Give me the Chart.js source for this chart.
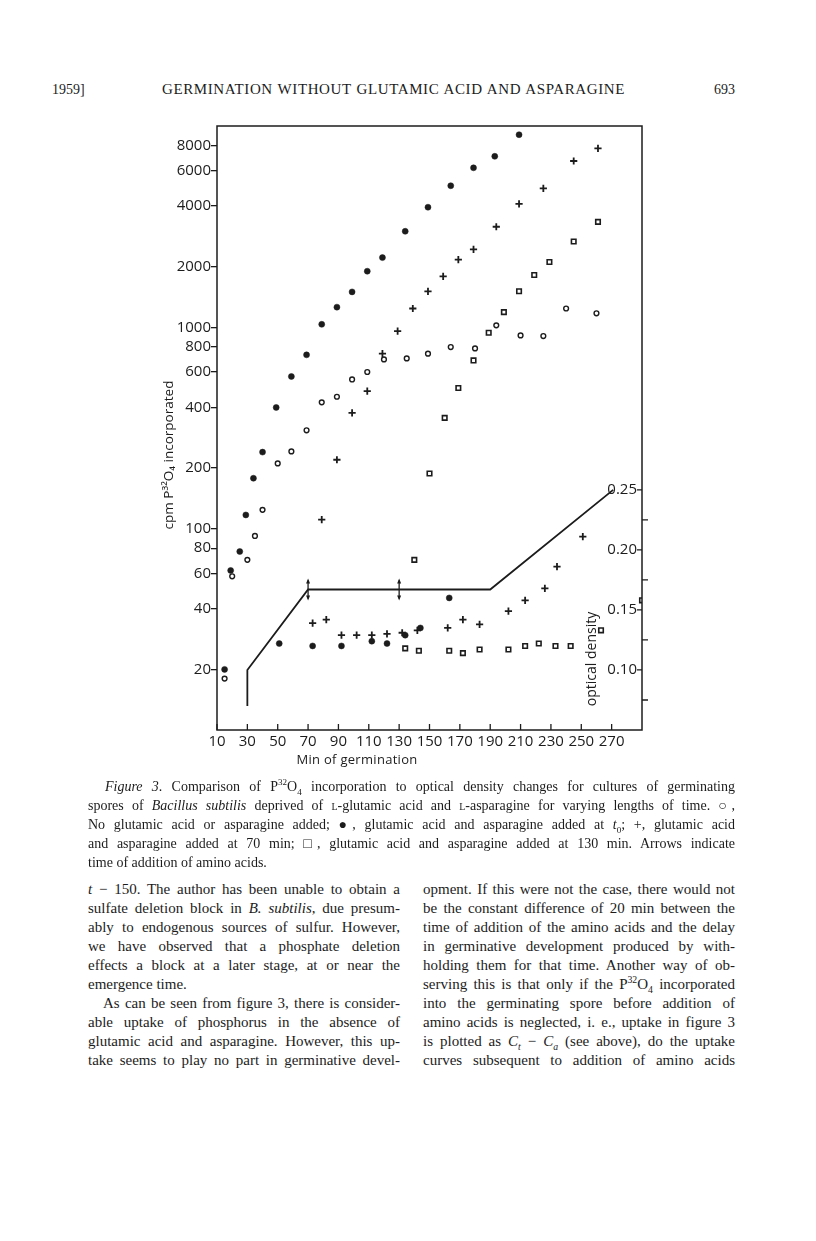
<!DOCTYPE html>
<html>
<head>
<meta charset="utf-8">
<script src="https://cdn.jsdelivr.net/npm/chart.js@4.4.0/dist/chart.umd.min.js"></script>
<style>
  html, body { margin: 0; padding: 0; background: #fff; }
  body { width: 816px; height: 1241px; position: relative; overflow: hidden; color: #1c1c1c;
         font-family: "Liberation Serif", "DejaVu Serif", serif; }
  .ln { position: absolute; white-space: nowrap; line-height: 19px; font-size: 15px; }
  .cap { font-size: 14px; }
  .j { text-align: justify; text-align-last: justify; }
  sup, sub { font-size: 65%; line-height: 0; }
  .sc { font-variant: small-caps; }
  #wrap { position: absolute; left: 140px; top: 110px; width: 520px; height: 670px; }
</style>
</head>
<body>

<div class="ln" style="left:52px; top:80px; font-size:14px;">1959]</div>
<div class="ln j" style="left:162px; top:80px; width:463px; font-size:15px; letter-spacing:0.6px;">GERMINATION WITHOUT GLUTAMIC ACID AND ASPARAGINE</div>
<div class="ln" style="left:705px; top:80px; width:30px; text-align:right; font-size:14px;">693</div>

<div id="wrap"><canvas id="fig3" width="520" height="670"></canvas></div>

<div class="ln cap j" style="left:105px; top:777px; width:630px;"><i>Figure 3</i>. Comparison of P<sup>32</sup>O<sub>4</sub> incorporation to optical density changes for cultures of germinating</div>
<div class="ln cap j" style="left:88px; top:796px; width:647px;">spores of <i>Bacillus subtilis</i> deprived of <span class="sc">l</span>-glutamic acid and <span class="sc">l</span>-asparagine for varying lengths of time. ○,</div>
<div class="ln cap j" style="left:88px; top:815px; width:647px;">No glutamic acid or asparagine added; ●, glutamic acid and asparagine added at <i>t</i><sub>0</sub>; +, glutamic acid</div>
<div class="ln cap j" style="left:88px; top:834px; width:647px;">and asparagine added at 70 min; □, glutamic acid and asparagine added at 130 min. Arrows indicate</div>
<div class="ln cap" style="left:88px; top:853px;">time of addition of amino acids.</div>

<div class="ln j" style="left:88px; top:880px; width:312px;"><i>t</i> − 150. The author has been unable to obtain a</div>
<div class="ln j" style="left:88px; top:899px; width:312px;">sulfate deletion block in <i>B. subtilis</i>, due presum-</div>
<div class="ln j" style="left:88px; top:918px; width:312px;">ably to endogenous sources of sulfur. However,</div>
<div class="ln j" style="left:88px; top:937px; width:312px;">we have observed that a phosphate deletion</div>
<div class="ln j" style="left:88px; top:956px; width:312px;">effects a block at a later stage, at or near the</div>
<div class="ln" style="left:88px; top:975px;">emergence time.</div>
<div class="ln j" style="left:103px; top:994px; width:297px;">As can be seen from figure 3, there is consider-</div>
<div class="ln j" style="left:88px; top:1013px; width:312px;">able uptake of phosphorus in the absence of</div>
<div class="ln j" style="left:88px; top:1032px; width:312px;">glutamic acid and asparagine. However, this up-</div>
<div class="ln j" style="left:88px; top:1051px; width:312px;">take seems to play no part in germinative devel-</div>

<div class="ln j" style="left:423px; top:880px; width:312px;">opment. If this were not the case, there would not</div>
<div class="ln j" style="left:423px; top:899px; width:312px;">be the constant difference of 20 min between the</div>
<div class="ln j" style="left:423px; top:918px; width:312px;">time of addition of the amino acids and the delay</div>
<div class="ln j" style="left:423px; top:937px; width:312px;">in germinative development produced by with-</div>
<div class="ln j" style="left:423px; top:956px; width:312px;">holding them for that time. Another way of ob-</div>
<div class="ln j" style="left:423px; top:975px; width:312px;">serving this is that only if the P<sup>32</sup>O<sub>4</sub> incorporated</div>
<div class="ln j" style="left:423px; top:994px; width:312px;">into the germinating spore before addition of</div>
<div class="ln j" style="left:423px; top:1013px; width:312px;">amino acids is neglected, i. e., uptake in figure 3</div>
<div class="ln j" style="left:423px; top:1032px; width:312px;">is plotted as <i>C<sub>t</sub></i> − <i>C<sub>a</sub></i> (see above), do the uptake</div>
<div class="ln j" style="left:423px; top:1051px; width:312px;">curves subsequent to addition of amino acids</div>

<script>
// axis ticks
var minTicks = [10, 30, 50, 70, 90, 110, 130, 150, 170, 190, 210, 230, 250, 270];
var cpmTicks = [20, 40, 60, 80, 100, 200, 400, 600, 800, 1000, 2000, 4000, 6000, 8000];
var odTicks = [0.10, 0.15, 0.20, 0.25];
var odMinorTicks = [0.075, 0.125, 0.175, 0.225];

// filled circles: amino acids added at t0 (cpm)
var fillMin = [15, 19, 25, 29, 34, 40, 49, 59, 69, 79, 89, 99, 109, 119, 134, 149, 164, 179, 193, 209];
var fillCpm = [20, 62, 77, 117, 178, 240, 400, 570, 730, 1035, 1260, 1500, 1900, 2220, 3000, 3950, 5050, 6200, 7070, 9050];

// open circles: nothing added (cpm)
var openMin = [15, 20, 30, 35, 40, 50, 59, 69, 79, 89, 99, 109, 120, 135, 149, 164, 180, 194, 210, 225, 240, 260];
var openCpm = [18, 58, 70, 92, 124, 211, 242, 308, 424, 452, 551, 600, 693, 701, 740, 798, 786, 1023, 912, 905, 1240, 1174];

// crosses: added at 70 min (cpm)
var plusMin = [79, 89, 99, 109, 119, 129, 139, 149, 159, 169, 179, 194, 209, 225, 245, 261];
var plusCpm = [111, 220, 376, 482, 740, 958, 1240, 1510, 1790, 2170, 2440, 3160, 4100, 4900, 6700, 7750];

// squares: added at 130 min (cpm)
var sqMin = [140, 150, 160, 169, 179, 189, 199, 209, 219, 229, 245, 261];
var sqCpm = [70, 188, 355, 500, 685, 940, 1190, 1510, 1820, 2110, 2670, 3340];

// optical density points
var fillOdMin = [51, 73, 92, 112, 122, 134, 144, 163];
var fillOd = [0.122, 0.120, 0.120, 0.124, 0.122, 0.129, 0.135, 0.160];
var plusOdMin = [73, 82, 92, 102, 112, 122, 132, 142, 162, 172, 183, 202, 213, 226, 234, 251];
var plusOd = [0.139, 0.142, 0.129, 0.129, 0.129, 0.130, 0.131, 0.133, 0.135, 0.142, 0.138, 0.149, 0.158, 0.168, 0.186, 0.211];
var sqOdMin = [134, 143, 163, 172, 183, 202, 213, 222, 233, 243, 263, 290];
var sqOd = [0.118, 0.116, 0.116, 0.114, 0.117, 0.117, 0.120, 0.122, 0.120, 0.120, 0.133, 0.158];

// optical density curve
var odLineMin = [30, 30, 70, 190, 271];
var odLine = [0.07, 0.10, 0.167, 0.167, 0.25];

// arrows: time of addition of amino acids
var arrowMin = [70, 130];
var arrowOd = 0.167;

var ink = '#1c1c1c';
var sans = '"Open Sans", "DejaVu Sans", sans-serif';

function pts(xs, ys) {
  return xs.map(function(x, i) { return { x: x, y: ys[i] }; });
}

var framePlugin = {
  id: 'frame',
  afterDraw: function(chart) {
    var ctx = chart.ctx, a = chart.chartArea, sx = chart.scales.x, sy2 = chart.scales.y2;
    ctx.save();
    ctx.strokeStyle = ink;
    ctx.fillStyle = ink;
    ctx.lineWidth = 1.5;
    ctx.strokeRect(a.left, a.top, a.right - a.left, a.bottom - a.top);

    ctx.lineWidth = 1.3;
    ctx.beginPath();
    minTicks.forEach(function(v) {
      var x = sx.getPixelForValue(v);
      ctx.moveTo(x, a.bottom); ctx.lineTo(x, a.bottom - 6);
    });
    odTicks.forEach(function(v) {
      var y = sy2.getPixelForValue(v);
      ctx.moveTo(a.right - 5, y); ctx.lineTo(a.right, y);
    });
    odMinorTicks.forEach(function(v) {
      var y = sy2.getPixelForValue(v);
      ctx.moveTo(a.right, y); ctx.lineTo(a.right + 6, y);
    });
    ctx.stroke();

    // optical density tick labels, inside the frame
    ctx.font = '15px ' + sans;
    ctx.textAlign = 'right';
    ctx.textBaseline = 'middle';
    odTicks.forEach(function(v) {
      ctx.fillText(v.toFixed(2), a.right - 5, sy2.getPixelForValue(v));
    });

    // double-headed arrows
    arrowMin.forEach(function(m) {
      var x = sx.getPixelForValue(m), y = sy2.getPixelForValue(arrowOd);
      ctx.beginPath();
      ctx.moveTo(x, y - 9); ctx.lineTo(x, y + 9);
      ctx.stroke();
      ctx.beginPath();
      ctx.moveTo(x, y - 11); ctx.lineTo(x - 2, y - 6); ctx.lineTo(x + 2, y - 6); ctx.closePath();
      ctx.moveTo(x, y + 11); ctx.lineTo(x - 2, y + 6); ctx.lineTo(x + 2, y + 6); ctx.closePath();
      ctx.fill();
    });

    // axis titles
    ctx.textAlign = 'center';
    ctx.font = '13px ' + sans;
    ctx.letterSpacing = '0.3px';
    ctx.fillText('Min of germination', a.left + 140, a.bottom + 30);
    ctx.letterSpacing = '0px';

    ctx.save();
    ctx.translate(a.left - 48, a.top + 329);
    ctx.rotate(-Math.PI / 2);
    ctx.font = '13.5px ' + sans;
    ctx.fillText('cpm P\u00b3\u00b2O\u2084 incorporated', 0, 0);
    ctx.restore();

    ctx.save();
    ctx.translate(a.right - 50, a.bottom - 71);
    ctx.rotate(-Math.PI / 2);
    ctx.font = '14px ' + sans;
    ctx.fillText('optical density', 0, 0);
    ctx.restore();

    ctx.restore();
  }
};

new Chart(document.getElementById('fig3'), {
  type: 'scatter',
  data: {
    datasets: [
      { data: pts(odLineMin, odLine), yAxisID: 'y2', showLine: true, pointRadius: 0,
        borderColor: ink, borderWidth: 1.8, fill: false },
      { data: pts(fillMin, fillCpm), yAxisID: 'y', pointStyle: 'circle', pointRadius: 3,
        backgroundColor: ink, borderColor: ink, borderWidth: 0.5 },
      { data: pts(openMin, openCpm), yAxisID: 'y', pointStyle: 'circle', pointRadius: 2.4,
        backgroundColor: '#fff', borderColor: ink, borderWidth: 1.4 },
      { data: pts(plusMin, plusCpm), yAxisID: 'y', pointStyle: 'cross', pointRadius: 3.6,
        borderColor: ink, borderWidth: 1.8 },
      { data: pts(sqMin, sqCpm), yAxisID: 'y', pointStyle: 'rect', pointRadius: 3.2,
        backgroundColor: '#fff', borderColor: ink, borderWidth: 1.6 },
      { data: pts(fillOdMin, fillOd), yAxisID: 'y2', pointStyle: 'circle', pointRadius: 3,
        backgroundColor: ink, borderColor: ink, borderWidth: 0.5 },
      { data: pts(plusOdMin, plusOd), yAxisID: 'y2', pointStyle: 'cross', pointRadius: 3.6,
        borderColor: ink, borderWidth: 1.8 },
      { data: pts(sqOdMin, sqOd), yAxisID: 'y2', pointStyle: 'rect', pointRadius: 3.2,
        backgroundColor: '#fff', borderColor: ink, borderWidth: 1.6 }
    ]
  },
  options: {
    responsive: false,
    animation: false,
    layout: { padding: { left: 0, top: 16, right: 18, bottom: 0 } },
    plugins: {
      legend: { display: false },
      tooltip: { enabled: false }
    },
    scales: {
      x: {
        type: 'linear',
        min: 10,
        max: 290,
        afterBuildTicks: function(s) { s.ticks = minTicks.map(function(v) { return { value: v }; }); },
        afterFit: function(s) { s.height = 50; },
        grid: { display: false },
        border: { display: false },
        ticks: { color: ink, font: { family: sans, size: 15 }, padding: -5, maxRotation: 0, autoSkip: false }
      },
      y: {
        type: 'logarithmic',
        position: 'left',
        min: 10,
        max: 10000,
        afterBuildTicks: function(s) { s.ticks = cpmTicks.map(function(v) { return { value: v }; }); },
        afterFit: function(s) { s.width = 77; },
        grid: { drawOnChartArea: false, drawTicks: true, tickLength: 6, color: ink, lineWidth: 1.3 },
        border: { display: false },
        ticks: { color: ink, font: { family: sans, size: 15 }, padding: 0, autoSkip: false,
                 callback: function(v) { return String(v); } }
      },
      y2: {
        type: 'linear',
        position: 'right',
        min: 0.05,
        max: 0.553,
        afterBuildTicks: function(s) { s.ticks = odTicks.map(function(v) { return { value: v }; }); },
        afterFit: function(s) { s.width = 0; },
        grid: { display: false },
        border: { display: false },
        ticks: { display: false }
      }
    }
  },
  plugins: [framePlugin]
});
</script>
</body>
</html>
